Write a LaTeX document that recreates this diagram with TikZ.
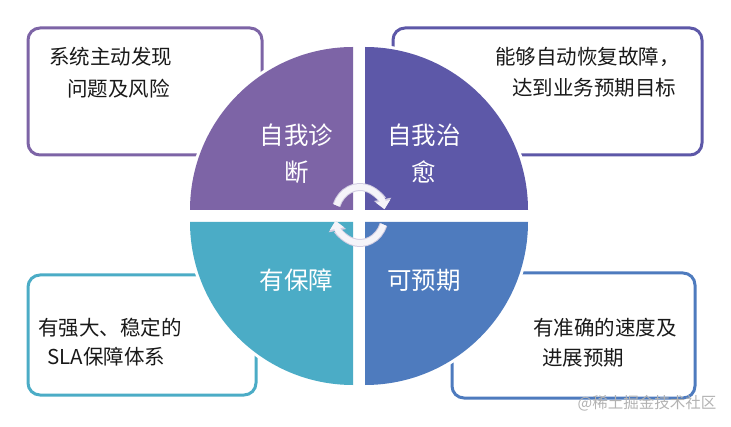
\documentclass[tikz,border=0pt]{standalone}
\usepackage{fontspec}
\setmainfont{Noto Sans CJK SC}
\usetikzlibrary{arrows.meta}
\definecolor{qdiag}{HTML}{7D64A6}
\definecolor{qheal}{HTML}{5D58A8}
\definecolor{qsla}{HTML}{4BACC6}
\definecolor{qpred}{HTML}{4E7BBE}
\definecolor{ringedge}{HTML}{D2CDE2}
\definecolor{ringfill}{HTML}{F5F4F9}
\tikzset{
  card/.style={line width=3pt, rounded corners=12pt},
  note/.style={anchor=west, inner sep=0pt, text=black!90, font=\fontsize{20.5}{24}\selectfont},
  quadtext/.style={text=white, align=center, font=\fontsize{24.5}{37}\selectfont},
}
\begin{document}
\begin{tikzpicture}[x=1pt, y=1pt]
  \useasboundingbox (0,0) rectangle (731,426);
  % kaarten achter de cirkel
  \draw[card, qdiag] (28,271) rectangle (262,398);
  \draw[card, qheal] (393,271) rectangle (702,398);
  \draw[card, qsla] (28,31) rectangle (256,151);
  \draw[card, qpred] (452,28) rectangle (695,153);
  % vier kwarten
  \foreach \cx/\cy/\a/\col in {353/216/90/qdiag, 365/216/0/qheal, 353/204/180/qsla, 365/204/270/qpred}
    \fill[\col, preaction={draw=white, line width=6pt}] (\cx,\cy) -- ++(\a:163) arc[start angle=\a, delta angle=90, radius=163] -- cycle;
  \node[quadtext] (diag) at (296.5,272.5) {自我诊\\断};
  \node[quadtext] (heal) at (424,272.5) {自我治\\愈};
  \node[quadtext] (sla) at (296.5,146) {有保障};
  \node[quadtext] (pred) at (424,146) {可预期};
  % teksten in de kaarten
  \node[note] (diag1) at (49,369) {系统主动发现};
  \node[note] (diag2) at (67,337) {问题及风险};
  \node[note] (heal1) at (495,369) {能够自动恢复故障，};
  \node[note] (heal2) at (512,338) {达到业务预期目标};
  \node[note] (sla1) at (38,98) {有强大、稳定的};
  \node[note] (sla2) at (47,69) {SLA保障体系};
  \node[note] (pred1) at (533,98) {有准确的速度及};
  \node[note] (pred2) at (542,68) {进展预期};
  % kringloop
  \coordinate (hub) at (360,211);
  \foreach \s/\e in {160/12, -20/-168} {
    \draw[ringedge, line width=8pt, -{Triangle[width=17pt, length=10pt]}] ([shift={(\s:25 and 28)}]hub) arc[start angle=\s, end angle=\e, x radius=25, y radius=28];
    \draw[ringfill, line width=6pt, -{Triangle[width=14pt, length=8pt]}] ([shift={(\s:25 and 28)}]hub) arc[start angle=\s, end angle=\e, x radius=25, y radius=28];
  }
  \node[text=black!30, font=\fontsize{15.5}{18}\selectfont] (mark) at (647,23) {@稀土掘金技术社区};
\end{tikzpicture}
\end{document}
